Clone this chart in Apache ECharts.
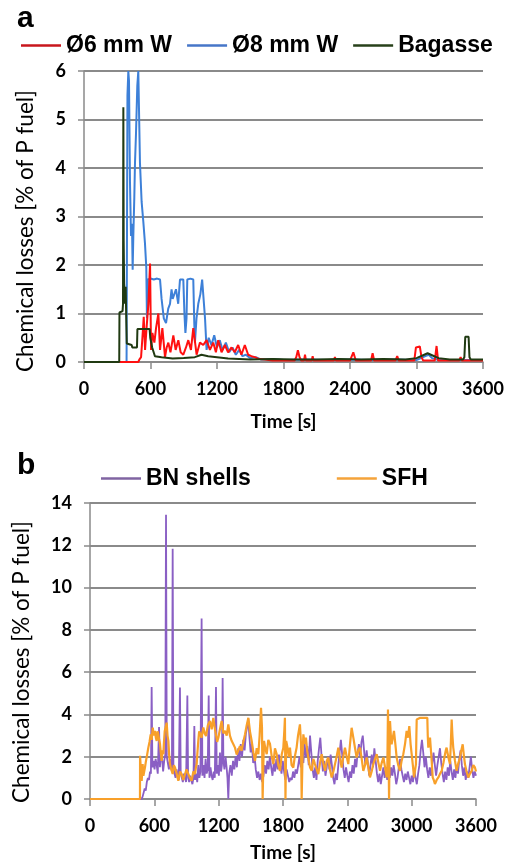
<!DOCTYPE html>
<html><head><meta charset="utf-8">
<script src="https://cdn.jsdelivr.net/npm/echarts@6/dist/echarts.min.js"></script>
<style>html,body{margin:0;padding:0;background:#fff}#c{width:508px;height:863px}</style>
</head><body><div id="c"></div>
<script>
// ---- data (time [s], chemical losses [% of P fuel]) ----
const xTicks = [0, 600, 1200, 1800, 2400, 3000, 3600];
const yTicksA = [0, 1, 2, 3, 4, 5, 6];
const yTicksB = [0, 2, 4, 6, 8, 10, 12, 14];
const namesA = ['Ø6 mm W', 'Ø8 mm W', 'Bagasse'];
const namesB = ['BN shells', 'SFH'];

const w6 = [[0,0],[490,0],[499,0.05],[515,0.1],[527,0.5],[539,0.93],[551,0.25],[566,0.75],[581,1.2],[596,2.03],[605,0.25],[617,0.6],[635,0.4],[650,0.7],[671,1.0],[686,0.25],[707,0.7],[731,0.1],[746,0.3],[761,0.4],[780,0.2],[806,0.55],[827,0.25],[851,0.45],[872,0.2],[896,0.15],[920,0.3],[941,0.45],[965,0.25],[986,0.7],[1016,0.15],[1046,0.4],[1076,0.35],[1106,0.45],[1136,0.25],[1166,0.4],[1190,0.2],[1211,0.45],[1241,0.2],[1271,0.35],[1300,0.2],[1331,0.3],[1360,0.2],[1391,0.35],[1420,0.15],[1451,0.35],[1481,0.15],[1510,0.12],[1541,0.1],[1580,0.06],[1631,0.05],[1700,0.03],[1752,0.03],[1820,0.03],[1900,0.03],[1915,0.1],[1930,0.24],[1945,0.1],[1960,0.03],[1985,0.03],[1994,0.15],[2003,0.03],[2020,0.03],[2055,0.03],[2063,0.12],[2071,0.03],[2100,0.03],[2200,0.03],[2255,0.03],[2264,0.1],[2273,0.03],[2300,0.03],[2400,0.03],[2418,0.03],[2430,0.2],[2442,0.2],[2452,0.03],[2500,0.03],[2590,0.03],[2604,0.18],[2618,0.03],[2700,0.03],[2810,0.03],[2826,0.12],[2840,0.03],[2900,0.03],[2980,0.03],[2995,0.3],[3010,0.34],[3030,0.32],[3045,0.1],[3060,0.03],[3100,0.03],[3165,0.03],[3181,0.33],[3195,0.03],[3250,0.03],[3385,0.03],[3398,0.1],[3410,0.03],[3500,0.03],[3600,0.03]];

const w8 = [[0,0],[384,0],[392,5.5],[400,6],[406,5.8],[415,3.7],[424,2.6],[433,2.85],[439,1.9],[445,2.6],[454,3.4],[460,4.1],[469,4.7],[481,5.7],[490,6],[496,6],[505,4.1],[520,3.3],[535,2.9],[550,2.45],[562,1.95],[568,0.9],[576,1.7],[600,1.72],[630,1.7],[660,1.72],[686,1.7],[700,1.3],[720,0.9],[740,0.8],[760,1.1],[776,1.2],[790,1.5],[800,1.3],[830,1.5],[850,1.2],[866,1.7],[896,1.7],[906,1.0],[915,0.6],[925,0.9],[932,1.7],[960,1.72],[986,1.7],[995,0.8],[1001,0.4],[1015,0.9],[1031,1.2],[1050,1.4],[1066,1.7],[1080,1.7],[1092,0.9],[1106,0.25],[1125,0.5],[1150,0.35],[1175,0.55],[1200,0.3],[1225,0.45],[1250,0.25],[1280,0.4],[1310,0.2],[1340,0.3],[1370,0.15],[1400,0.25],[1430,0.12],[1460,0.15],[1500,0.08],[1550,0.1],[1600,0.05],[1700,0.06],[1800,0.04],[2000,0.05],[2200,0.04],[2400,0.05],[2600,0.04],[2800,0.05],[3000,0.04],[3080,0.12],[3110,0.15],[3140,0.08],[3200,0.04],[3400,0.04],[3600,0.04]];

const bag = [[0,0],[318,0],[320,1.02],[348,1.05],[352,1.2],[355,5.25],[358,2.5],[362,1.6],[366,1.5],[370,1.2],[376,1.55],[382,0.8],[386,0.38],[430,0.35],[436,0.3],[478,0.3],[482,0.68],[592,0.68],[598,0.5],[615,0.3],[640,0.12],[700,0.1],[800,0.07],[900,0.08],[1000,0.1],[1060,0.15],[1120,0.12],[1200,0.1],[1300,0.07],[1500,0.05],[1700,0.06],[1900,0.05],[2100,0.05],[2300,0.06],[2500,0.05],[2700,0.06],[2900,0.05],[3000,0.08],[3060,0.14],[3100,0.18],[3140,0.14],[3200,0.08],[3300,0.05],[3420,0.05],[3432,0.1],[3440,0.52],[3470,0.52],[3478,0.1],[3490,0.05],[3600,0.05]];

const bn = [[0,0],[480,0],[490,0.1],[500,0.3],[510,0.5],[520,0.4],[530,0.8],[540,1.0],[550,0.9],[560,1.3],[568,1.2],[575,5.3],[582,1.5],[592,1.8],[602,1.4],[612,1.9],[622,1.6],[632,1.2],[644,3.4],[652,1.5],[662,2.2],[672,1.9],[682,1.3],[692,1.8],[702,2.1],[709,13.45],[716,2.0],[726,1.7],[736,1.4],[746,1.9],[756,1.6],[764,1.3],[771,11.84],[778,1.5],[788,1.2],[798,1.0],[808,1.4],[818,1.1],[828,0.9],[839,5.27],[846,1.2],[856,1.0],[866,0.8],[876,1.2],[886,1.0],[896,0.8],[908,4.9],[915,1.0],[925,0.8],[935,1.1],[945,0.9],[955,0.7],[965,1.0],[973,3.45],[980,0.9],[990,1.2],[1000,0.8],[1010,1.6],[1020,1.0],[1030,1.3],[1041,8.54],[1048,1.1],[1058,1.6],[1068,1.0],[1078,1.9],[1088,1.2],[1098,1.4],[1107,4.9],[1114,1.0],[1124,1.5],[1134,1.1],[1144,0.9],[1154,1.3],[1164,1.0],[1175,5.3],[1182,1.2],[1192,1.6],[1202,1.1],[1212,2.2],[1222,1.3],[1230,1.6],[1237,5.72],[1244,1.8],[1254,1.4],[1264,2.0],[1274,1.5],[1282,1.0],[1290,0],[1298,1.2],[1310,1.6],[1322,1.1],[1334,1.8],[1346,1.4],[1358,2.0],[1370,1.5],[1382,2.4],[1394,1.8],[1406,2.6],[1418,2.0],[1430,2.8],[1442,2.3],[1454,3.1],[1466,3.4],[1476,3.8],[1486,3.0],[1498,2.2],[1510,2.6],[1522,1.7],[1534,2.1],[1546,1.4],[1558,1.0],[1570,1.3],[1582,0.9],[1594,1.2],[1606,0.8],[1618,1.1],[1630,1.6],[1642,1.2],[1654,1.8],[1666,1.4],[1678,2.0],[1690,1.5],[1702,1.1],[1714,1.7],[1726,1.3],[1738,1.9],[1750,1.4],[1762,2.1],[1774,1.6],[1786,1.2],[1798,1.8],[1810,1.3],[1822,0.9],[1834,1.4],[1846,1.1],[1858,0.8],[1870,1.0],[1882,0.9],[1894,1.3],[1906,1.0],[1918,1.4],[1930,1.2],[1942,1.6],[1954,2.0],[1966,1.5],[1978,2.3],[1990,1.7],[2002,2.6],[2014,2.0],[2026,2.5],[2040,1.6],[2052,3.0],[2064,2.2],[2076,1.4],[2088,1.0],[2100,1.5],[2112,0.9],[2124,1.8],[2136,2.4],[2148,2.9],[2160,2.0],[2172,1.3],[2184,1.8],[2196,1.1],[2208,1.5],[2220,2.0],[2232,1.4],[2244,2.1],[2256,1.6],[2268,1.0],[2280,0.7],[2292,1.2],[2304,0.9],[2316,1.6],[2328,2.2],[2340,2.8],[2352,2.1],[2364,1.4],[2376,1.0],[2388,1.5],[2400,1.1],[2412,0.8],[2424,1.3],[2436,1.0],[2448,1.6],[2460,1.2],[2472,1.9],[2484,1.5],[2496,2.2],[2508,2.6],[2520,2.0],[2532,2.7],[2544,3.0],[2556,2.3],[2568,1.6],[2580,2.3],[2592,1.7],[2604,1.1],[2616,1.6],[2628,2.1],[2640,1.5],[2652,2.4],[2664,1.8],[2676,1.2],[2688,0.8],[2700,1.2],[2712,0.7],[2724,1.1],[2736,1.5],[2748,1.0],[2760,1.4],[2772,0.9],[2784,1.3],[2796,1.0],[2808,1.5],[2820,1.1],[2832,1.6],[2844,1.2],[2856,0.7],[2868,1.0],[2880,1.5],[2892,1.9],[2904,1.4],[2916,1.1],[2928,0.8],[2940,1.2],[2952,0.9],[2964,1.3],[2976,1.0],[2988,0.7],[3000,1.1],[3012,0.8],[3024,1.4],[3036,1.0],[3048,0.7],[3060,1.2],[3072,1.6],[3084,2.3],[3096,2.8],[3108,2.2],[3120,1.5],[3132,2.0],[3144,1.4],[3156,1.0],[3168,1.5],[3180,1.1],[3192,1.7],[3204,2.2],[3216,1.6],[3228,1.1],[3240,1.6],[3252,2.0],[3264,2.4],[3276,1.7],[3288,1.2],[3300,0.8],[3312,1.3],[3324,0.9],[3336,1.5],[3348,1.1],[3360,1.8],[3372,1.3],[3384,0.9],[3396,1.4],[3408,1.0],[3420,1.6],[3432,1.2],[3444,1.9],[3456,2.3],[3468,1.6],[3480,1.1],[3492,1.5],[3504,0.9],[3516,1.3],[3528,1.0],[3540,1.5],[3552,2.0],[3564,1.4],[3576,1.0],[3588,1.3],[3600,1.1]];

const sfh = [[0,0],[466,0],[467,2.04],[474,1.4],[482,0.86],[491,1.65],[498,1.1],[504,1.02],[513,1.5],[522,1.8],[533,2.1],[544,2.43],[555,2.7],[566,3.06],[575,2.8],[585,3.38],[595,3.0],[606,3.22],[614,2.9],[622,2.75],[630,3.2],[637,3.06],[645,2.8],[653,2.6],[660,2.2],[668,1.8],[676,2.3],[684,2.12],[690,2.7],[697,3.22],[706,3.4],[715,3.61],[723,3.0],[731,2.75],[738,2.1],[746,1.65],[758,1.4],[771,1.18],[782,1.6],[793,1.49],[808,1.2],[824,0.86],[840,1.3],[855,1.18],[870,0.9],[886,0.86],[900,1.4],[917,1.33],[932,1.0],[948,0.86],[964,1.3],[979,1.18],[988,1.5],[995,1.65],[1002,2.2],[1010,2.75],[1018,3.2],[1026,3.14],[1040,2.9],[1057,3.38],[1070,3.1],[1082,2.98],[1100,3.5],[1119,3.69],[1135,3.3],[1150,3.84],[1162,3.4],[1175,3.38],[1186,2.7],[1197,2.9],[1212,3.3],[1228,3.69],[1244,3.1],[1259,3.22],[1275,3.0],[1290,3.53],[1305,3.0],[1321,2.75],[1336,2.6],[1352,2.43],[1368,2.1],[1383,2.12],[1398,2.5],[1414,2.28],[1430,2.7],[1446,3.06],[1462,3.5],[1477,3.84],[1492,3.2],[1508,2.75],[1524,2.2],[1539,1.8],[1555,2.4],[1570,2.12],[1582,3.0],[1595,4.31],[1604,3.38],[1610,0],[1616,1.5],[1623,2.75],[1635,2.4],[1648,2.12],[1663,2.8],[1679,2.6],[1695,2.0],[1710,1.65],[1725,2.4],[1741,2.12],[1756,1.6],[1772,1.33],[1788,2.1],[1803,2.43],[1812,3.2],[1818,3.84],[1823,0],[1830,2.75],[1843,2.4],[1855,2.0],[1865,2.43],[1880,1.6],[1896,1.49],[1910,2.0],[1927,2.43],[1940,3.0],[1958,3.53],[1968,2.6],[1974,0],[1982,2.0],[1990,3.06],[2002,2.6],[2014,2.9],[2025,2.3],[2036,1.96],[2052,1.5],[2067,1.33],[2083,1.9],[2098,1.65],[2114,1.4],[2129,1.18],[2145,1.7],[2161,2.12],[2176,1.7],[2192,1.33],[2208,1.8],[2223,1.96],[2238,1.4],[2254,1.02],[2270,1.3],[2285,1.65],[2300,2.0],[2316,2.43],[2332,1.9],[2347,1.49],[2362,2.0],[2378,2.43],[2394,2.0],[2409,1.65],[2425,2.6],[2440,3.37],[2456,2.9],[2472,2.4],[2487,1.96],[2503,2.3],[2518,2.43],[2534,1.9],[2549,1.33],[2565,1.6],[2580,1.96],[2596,1.5],[2611,1.02],[2627,1.3],[2642,1.65],[2658,1.9],[2674,2.12],[2690,1.7],[2705,1.33],[2720,1.7],[2736,1.96],[2752,1.5],[2767,1.02],[2773,1.5],[2779,4.23],[2784,2.5],[2789,0],[2794,2.0],[2798,3.69],[2806,3.0],[2813,2.59],[2824,2.9],[2835,3.22],[2848,2.6],[2860,1.96],[2875,1.6],[2891,1.33],[2906,1.8],[2922,2.12],[2938,2.6],[2953,3.22],[2965,2.9],[2978,3.45],[2990,2.6],[3000,2.12],[3011,1.6],[3022,1.02],[3030,1.3],[3040,1.65],[3044,3.0],[3047,3.76],[3080,3.84],[3120,3.84],[3146,3.84],[3150,3.0],[3155,2.43],[3163,2.7],[3171,2.9],[3184,2.0],[3196,1.02],[3206,0.9],[3217,0.71],[3233,0.9],[3249,1.02],[3265,1.2],[3280,1.33],[3296,1.7],[3311,2.12],[3318,2.3],[3326,2.43],[3341,2.0],[3357,1.65],[3365,2.6],[3373,3.76],[3380,3.0],[3388,2.43],[3404,1.8],[3419,1.33],[3435,1.7],[3451,1.96],[3463,2.3],[3476,2.59],[3486,2.1],[3497,1.65],[3512,1.3],[3528,1.02],[3544,1.2],[3560,1.33],[3575,1.6],[3590,1.49],[3600,1.3]];

// ---- chart ----
const chart = echarts.init(document.getElementById('c'), null, {renderer: 'canvas'});
const gridColor = '#8a8a8a';
const tickFont = {fontFamily: 'Lato', fontWeight: 'bold', fontSize: 18, color: '#000'};
function xAx(gi, margin, gap) {
  return {type: 'value', gridIndex: gi, min: xTicks[0], max: xTicks[xTicks.length - 1], interval: xTicks[1] - xTicks[0],
    name: 'Time [s]', nameLocation: 'middle', nameGap: gap,
    nameTextStyle: {fontFamily: 'Lato', fontWeight: 'bold', fontSize: 19, color: '#000'},
    axisLine: {lineStyle: {color: gridColor, width: 1.5}},
    axisTick: {show: true, length: 7, lineStyle: {color: gridColor, width: 1.5}},
    axisLabel: Object.assign({margin: margin, formatter: function (v) { return String(v); }}, tickFont),
    splitLine: {show: false}};
}
function yAx(gi, ticks) {
  return {type: 'value', gridIndex: gi, min: ticks[0], max: ticks[ticks.length - 1], interval: ticks[1] - ticks[0],
    axisLine: {show: true, lineStyle: {color: gridColor, width: 1.5}},
    axisTick: {show: true, length: 6, lineStyle: {color: gridColor, width: 1.5}},
    axisLabel: Object.assign({margin: 18}, tickFont),
    splitLine: {show: true, lineStyle: {color: gridColor, width: 1.8}}};
}
function line(name, data, xi, color, width, z) {
  return {name: name, type: 'line', xAxisIndex: xi, yAxisIndex: xi, data: data, showSymbol: false,
    symbol: 'none', lineStyle: {color: color, width: width}, itemStyle: {color: color}, z: z, animation: false};
}
const legText = {fontFamily: 'Liberation Sans', fontWeight: 'bold', fontSize: 23, color: '#000'};
chart.setOption({
  animation: false,
  grid: [
    {left: 84, right: 25, top: 71, height: 291},
    {left: 90, right: 32, top: 503, height: 298}
  ],
  legend: [
    {left: 16, top: 29, icon: 'rect', itemWidth: 40, itemHeight: 2.5, itemGap: 15, textStyle: legText,
     data: [{name: namesA[0], itemStyle: {color: '#c8161d'}}, {name: namesA[1], itemStyle: {color: '#4676c8'}}, {name: namesA[2], itemStyle: {color: '#27401a'}}]},
    {left: 96, top: 462, icon: 'rect', itemWidth: 40, itemHeight: 2.5, itemGap: 86, textStyle: legText,
     data: [{name: namesB[0], itemStyle: {color: '#8064a2'}}, {name: namesB[1], itemStyle: {color: '#f5a33a'}}]}
  ],
  xAxis: [xAx(0, 18, 50), xAx(1, 18, 44)],
  yAxis: [yAx(0, yTicksA), yAx(1, yTicksB)],
  series: [
    line(namesA[1], w8, 0, '#3d80d8', 2, 2),
    line(namesA[0], w6, 0, '#ff1010', 2, 3),
    line(namesA[2], bag, 0, '#203a12', 2, 4),
    line(namesB[0], bn, 1, '#8a5fc4', 1.8, 2),
    line(namesB[1], sfh, 1, '#f8a02a', 2.2, 3)
  ],
  graphic: [
    {type: 'text', left: 17, top: 4, style: {text: 'a', font: 'bold 30px "Liberation Sans"', fill: '#000'}},
    {type: 'text', left: 17, top: 451, style: {text: 'b', font: 'bold 30px "Liberation Sans"', fill: '#000'}},
    {type: 'text', x: 26, y: 231, rotation: Math.PI / 2,
     style: {text: 'Chemical losses [% of P fuel]', font: '22.5px Lato', fill: '#000', align: 'center', verticalAlign: 'middle', textAlign: 'center', textVerticalAlign: 'middle'}},
    {type: 'text', x: 22, y: 662, rotation: Math.PI / 2,
     style: {text: 'Chemical losses [% of P fuel]', font: '22.5px Lato', fill: '#000', align: 'center', verticalAlign: 'middle', textAlign: 'center', textVerticalAlign: 'middle'}}
  ]
});
</script></body></html>
